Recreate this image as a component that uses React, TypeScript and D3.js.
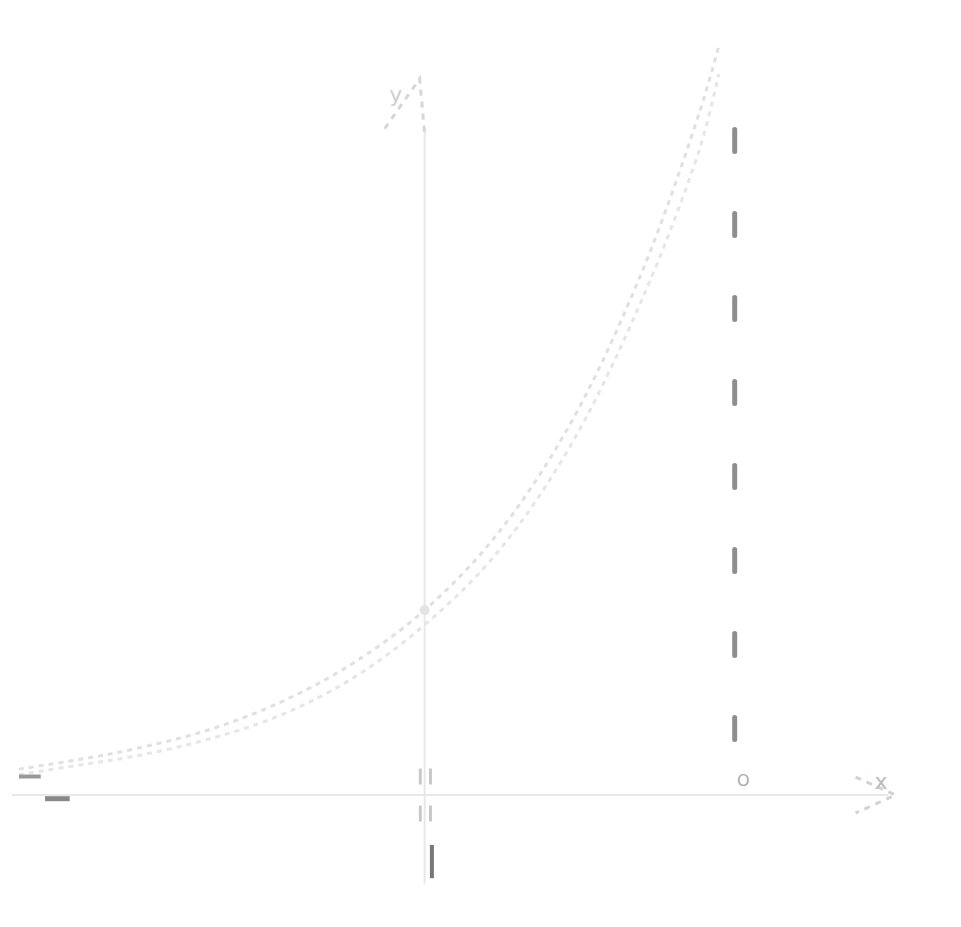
import { useEffect, useRef } from 'react';
import * as d3 from 'd3';

// curve readings (x, y)
const curveX = [-2.8, -2.4, -2.0, -1.5, -1.0, -0.5, 0.0, 0.5, 1.0, 1.5, 1.9, 2.03];
const curveUpper = [0.14, 0.19, 0.25, 0.35, 0.5, 0.71, 1.0, 1.41, 2.0, 2.83, 3.7, 4.05];
const curveLower = [0.11, 0.16, 0.21, 0.3, 0.43, 0.63, 0.92, 1.31, 1.88, 2.68, 3.5, 3.9];

// dashed vertical guide
const guideX = [2.14];
const guideRange = [0.27, 3.6];

const axisLabels = ['x', 'y', 'O'];

export default function App() {
  const svgRef = useRef<SVGSVGElement>(null);
  const width = 961;
  const height = 927;

  useEffect(() => {
    document.body.style.margin = '0';
    if (!svgRef.current) return;
    const svg = d3.select(svgRef.current);
    svg.selectAll('*').remove();

    const x = d3.scaleLinear().domain([-2.9, 3.35]).range([4.5, 910]);
    const y = d3.scaleLinear().domain([-0.49, 4.3]).range([885.6, 0]);

    const g = svg.append('g');

    // axes
    g.append('line')
      .attr('x1', x(-2.85)).attr('x2', x(3.2))
      .attr('y1', y(0)).attr('y2', y(0))
      .attr('stroke', '#e8e8e8').attr('stroke-width', 2);

    g.append('line')
      .attr('x1', x(0)).attr('x2', x(0))
      .attr('y1', y(-0.48)).attr('y2', y(3.6))
      .attr('stroke', '#e8e8e8').attr('stroke-width', 2);

    // arrow heads
    const ax = x(3.25), ay = y(0);
    g.append('path')
      .attr('d', `M${ax - 40},${ay - 18} L${ax},${ay} L${ax - 40},${ay + 18}`)
      .attr('fill', 'none').attr('stroke', '#d2d2d2').attr('stroke-width', 3)
      .attr('stroke-dasharray', '6,6');
    const tx = x(0), ty = y(3.82);
    g.append('path')
      .attr('d', `M${tx - 40},${ty + 40} L${tx - 5},${ty - 10} L${tx},${ty + 45}`)
      .attr('fill', 'none').attr('stroke', '#d6d6d6').attr('stroke-width', 3)
      .attr('stroke-dasharray', '6,6');

    // curves
    const line = d3.line<number>()
      .x((_, i) => x(curveX[i]))
      .y(d => y(d))
      .curve(d3.curveCatmullRom);

    g.append('path')
      .attr('d', line(curveUpper))
      .attr('fill', 'none').attr('stroke', '#e0e0e0').attr('stroke-width', 3)
      .attr('stroke-dasharray', '5,5');
    g.append('path')
      .attr('d', line(curveLower))
      .attr('fill', 'none').attr('stroke', '#e6e6e6').attr('stroke-width', 3)
      .attr('stroke-dasharray', '5,5');

    // intercept marker
    g.append('circle')
      .attr('cx', x(0)).attr('cy', y(1)).attr('r', 5)
      .attr('fill', '#e4e4e4');

    // dashed guide
    guideX.forEach(gx => {
      g.append('line')
        .attr('x1', x(gx)).attr('x2', x(gx))
        .attr('y1', y(guideRange[1])).attr('y2', y(guideRange[0]))
        .attr('stroke', '#8e8e8e').attr('stroke-width', 5)
        .attr('stroke-linecap', 'round')
        .attr('stroke-dasharray', '22,62');
    });

    // ticks at origin
    [-0.1, 0.1].forEach(dy => {
      g.append('line')
        .attr('x1', x(-0.03)).attr('x2', x(-0.03))
        .attr('y1', y(dy) - 8).attr('y2', y(dy) + 8)
        .attr('stroke', '#c8c8c8').attr('stroke-width', 3);
      g.append('line')
        .attr('x1', x(0.04)).attr('x2', x(0.04))
        .attr('y1', y(dy) - 8).attr('y2', y(dy) + 8)
        .attr('stroke', '#c8c8c8').attr('stroke-width', 3);
    });
    g.append('line')
      .attr('x1', x(0.05)).attr('x2', x(0.05))
      .attr('y1', y(-0.27)).attr('y2', y(-0.45))
      .attr('stroke', '#777').attr('stroke-width', 4);

    // left stub marks
    g.append('line')
      .attr('x1', x(-2.8)).attr('x2', x(-2.65))
      .attr('y1', y(0.1)).attr('y2', y(0.1))
      .attr('stroke', '#999').attr('stroke-width', 4);
    g.append('line')
      .attr('x1', x(-2.62)).attr('x2', x(-2.45))
      .attr('y1', y(-0.02)).attr('y2', y(-0.02))
      .attr('stroke', '#888').attr('stroke-width', 5);

    // labels
    const font = 'DejaVu Sans, sans-serif';
    g.append('text')
      .attr('x', x(3.15)).attr('y', y(0.03))
      .attr('fill', '#bbb').attr('font-size', 22).attr('font-family', font)
      .attr('text-anchor', 'middle')
      .text(axisLabels[0]);
    g.append('text')
      .attr('x', x(-0.2)).attr('y', y(3.75))
      .attr('fill', '#cfcfcf').attr('font-size', 22).attr('font-family', font)
      .attr('text-anchor', 'middle')
      .text(axisLabels[1]);
    g.append('text')
      .attr('x', x(2.2)).attr('y', y(0.05))
      .attr('fill', '#aaa').attr('font-size', 16).attr('font-family', font)
      .attr('text-anchor', 'middle')
      .text(axisLabels[2]);
  }, []);

  return <svg ref={svgRef} width={width} height={height} style={{ display: 'block' }} />;
}
